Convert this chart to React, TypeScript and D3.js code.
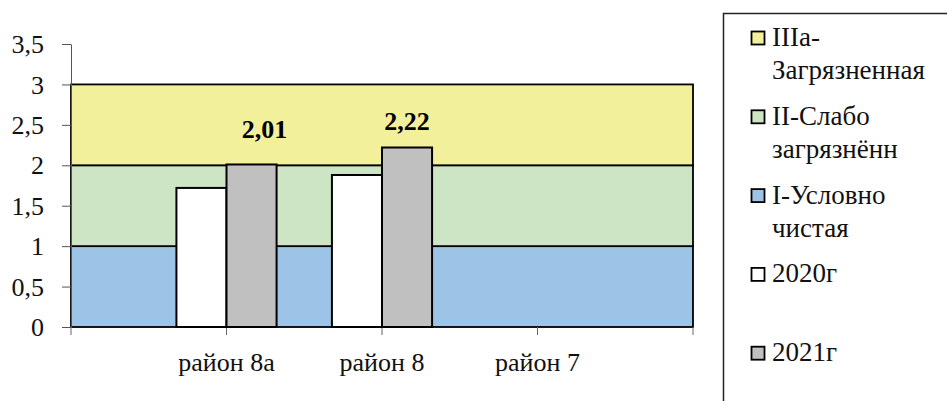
import React, {useEffect, useRef} from 'react';
import * as d3 from 'd3';

// categories on the x axis
const categories = ['район 8а', 'район 8', 'район 7'];
// measured values per year (район 7 has no data)
const values2020: (number | null)[] = [1.72, 1.88, null];
const values2021: (number | null)[] = [2.01, 2.22, null];
// background quality zones, stacked from bottom
const zoneNames = ['I-Условно чистая', 'II-Слабо загрязнённ', 'IIIа-Загрязненная'];
const zoneValues = [1, 1, 1];
const zoneColors = ['#9dc3e6', '#cee5c5', '#f3f09c'];
// legend text, top to bottom, one array per entry (lines)
const legendLines = [
  ['IIIа-', 'Загрязненная'],
  ['II-Слабо', 'загрязнённ'],
  ['I-Условно', 'чистая'],
  ['2020г'],
  ['2021г'],
];
const legendColors = ['#f3f09c', '#cee5c5', '#9dc3e6', '#ffffff', '#c0c0c0'];

const FONT = "'Liberation Serif', 'Times New Roman', serif";
// manual nudge of the 2021 value labels (as placed in the original)
const labelNudge = [[13, -9], [0, 0]];

const fmt = (d: number) => String(d).replace('.', ',');

export default function App() {
  const ref = useRef<SVGSVGElement>(null);

  useEffect(() => {
    const svg = d3.select(ref.current);
    svg.selectAll('*').remove();

    const plot = {left: 71, right: 693, top: 44, bottom: 327};

    const xScale = d3.scaleLinear()
      .domain([0, categories.length + 1])
      .range([plot.left, plot.right]);
    const yScale = d3.scaleLinear()
      .domain([0, 3.5])
      .range([plot.bottom, plot.top]);

    // zones
    let acc = 0;
    const zones = zoneValues.map((v, i) => {
      const z = {lo: acc, hi: acc + v, color: zoneColors[i], name: zoneNames[i]};
      acc += v;
      return z;
    });
    svg.append('g').selectAll('rect')
      .data(zones)
      .enter().append('rect')
      .attr('x', xScale(0))
      .attr('width', xScale(categories.length + 1) - xScale(0))
      .attr('y', d => yScale(d.hi))
      .attr('height', d => yScale(d.lo) - yScale(d.hi))
      .attr('fill', d => d.color)
      .attr('stroke', '#000')
      .attr('stroke-width', 1.8);

    // y axis
    const yAxis = svg.append('g')
      .attr('transform', `translate(${plot.left},0)`)
      .call(d3.axisLeft(yScale).ticks(7).tickSizeInner(9).tickSizeOuter(0).tickPadding(18)
        .tickFormat(d => fmt(d as number)));
    yAxis.attr('font-family', null).attr('font-size', null);
    yAxis.select('.domain').attr('stroke', '#555');
    yAxis.selectAll('.tick line').attr('stroke', '#555');
    yAxis.selectAll('.tick text')
      .style('font-family', FONT)
      .style('font-size', '26px')
      .attr('fill', '#111')
      .attr('dy', '0.33em');

    // x ticks
    svg.append('g').selectAll('line')
      .data(d3.range(categories.length + 2))
      .enter().append('line')
      .attr('x1', d => xScale(d)).attr('x2', d => xScale(d))
      .attr('y1', plot.bottom).attr('y2', plot.bottom + 8)
      .attr('stroke', '#666');

    // bars
    const unit = xScale(1) - xScale(0);
    const bw = unit * 0.322;
    const bars = svg.append('g');
    bars.selectAll('rect.y2020')
      .data(values2020.map((v, i) => ({v, i})).filter(d => d.v !== null))
      .enter().append('rect')
      .attr('x', d => xScale(d.i + 1) - bw)
      .attr('width', bw)
      .attr('y', d => yScale(d.v as number))
      .attr('height', d => yScale(0) - yScale(d.v as number))
      .attr('fill', '#fff')
      .attr('stroke', '#000')
      .attr('stroke-width', 2);
    bars.selectAll('rect.y2021')
      .data(values2021.map((v, i) => ({v, i})).filter(d => d.v !== null))
      .enter().append('rect')
      .attr('x', d => xScale(d.i + 1))
      .attr('width', bw)
      .attr('y', d => yScale(d.v as number))
      .attr('height', d => yScale(0) - yScale(d.v as number))
      .attr('fill', '#c0c0c0')
      .attr('stroke', '#000')
      .attr('stroke-width', 2);

    // value labels for 2021
    svg.append('g').selectAll('text')
      .data(values2021.map((v, i) => ({v, i})).filter(d => d.v !== null))
      .enter().append('text')
      .attr('x', d => xScale(d.i + 1) + bw / 2 + (labelNudge[d.i] || [0, 0])[0])
      .attr('y', d => yScale(d.v as number) - 17 + (labelNudge[d.i] || [0, 0])[1])
      .attr('text-anchor', 'middle')
      .style('font-family', FONT)
      .style('font-size', '26px')
      .style('font-weight', 'bold')
      .text(d => fmt(d.v as number));

    // category labels
    svg.append('g').selectAll('text')
      .data(categories)
      .enter().append('text')
      .attr('x', (d, i) => xScale(i + 1))
      .attr('y', 371)
      .attr('text-anchor', 'middle')
      .style('font-family', FONT)
      .style('font-size', '26px')
      .attr('fill', '#111')
      .text(d => d);

    // legend
    const legend = svg.append('g');
    legend.append('rect')
      .attr('x', 723.5).attr('y', 13.5)
      .attr('width', 260).attr('height', 420)
      .attr('fill', '#fff')
      .attr('stroke', '#222')
      .attr('stroke-width', 1.5);
    const items = legend.selectAll('g.item')
      .data(legendLines)
      .enter().append('g')
      .attr('transform', (d, i) => `translate(0, ${46 + i * 78.8})`);
    items.append('rect')
      .attr('x', 751.5).attr('y', -14.5)
      .attr('width', 13).attr('height', 13)
      .attr('fill', (d, i) => legendColors[i])
      .attr('stroke', '#000')
      .attr('stroke-width', 1.8);
    items.each(function (lines) {
      const t = d3.select(this).append('text')
        .style('font-family', FONT)
        .style('font-size', '27px')
        .attr('fill', '#111');
      lines.forEach((line, j) => {
        t.append('tspan').attr('x', 772).attr('y', j * 33).text(line);
      });
    });
  }, []);

  return (
    <svg ref={ref} width={947} height={401}
      style={{position: 'absolute', left: 0, top: 0, background: '#fff', fontFamily: FONT}} />
  );
}
